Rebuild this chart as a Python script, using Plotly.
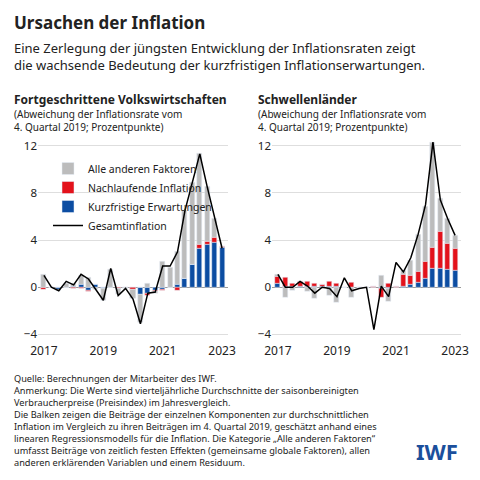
import plotly.graph_objects as go

quarters = [2017 + i / 4 for i in range(25)]

# Fortgeschrittene Volkswirtschaften
adv_blue = [0, 0, -0.2, 0, 0.1, 0.2, -0.3, 0.2, -0.1, 0, 0, 0, 0, -0.6, -0.5, -0.3, -0.2, 0, 0.2, 0.7, 1.9, 3.3, 3.6, 3.8, 3.4]
adv_red = [-0.2, 0, 0, 0, -0.1, -0.1, -0.1, 0, 0, -0.05, -0.1, 0, -0.2, 0, -0.2, -0.1, -0.1, 0, -0.3, 0, 0, 0.3, 0.3, 0.4, 0.05]
adv_gray = [1.1, 0, -0.1, 0.3, 0.2, 0.8, 0.8, -0.2, -1.0, 1.5, -0.5, -0.1, -0.8, -2.4, 0.3, -0.1, 2.2, 1.7, 2.8, 5.8, 7.0, 7.7, 4.6, 1.6, 0]
adv_total = [1.0, 0.0, -0.3, 0.5, 0.2, 1.1, 0.7, -0.2, -1.1, 1.6, -0.7, -0.1, -1.0, -3.1, -0.5, -0.4, 1.8, 1.8, 3.0, 6.5, 9.0, 11.3, 8.5, 5.8, 3.3]

# Schwellenländer
em_blue = [0.3, 0.1, 0.05, 0.05, 0.05, 0.05, 0.05, 0.05, 0.05, 0, 0, 0, 0, 0, -0.1, -0.1, 0, 0.1, 0.2, 0.4, 0.7, 1.6, 1.6, 1.5, 1.4]
em_red = [0.6, 0.7, 0.3, 0.4, 0.4, 0.3, 0.2, 0.4, 0.3, 0, 0.4, 0, 0, 0.1, -0.8, 0.3, 0.1, 1.0, 0.8, 0.9, 1.5, 1.8, 3.1, 2.2, 1.9]
em_gray = [0.2, -0.9, -0.3, 0, -0.4, -1.0, 0, -0.7, -1.3, 0, -0.9, 0, 0, 0, 1.0, -1.1, 0, 0.3, 1.3, 3.2, 4.6, 8.9, 2.8, 2.1, 1.1]
em_total = [1.1, 0.0, 0.0, 0.5, 0.1, -0.5, 0.0, -0.1, -0.8, 0.8, -0.3, -0.1, 0.0, -3.6, 0.1, -0.8, 2.1, 1.3, 2.5, 4.5, 7.0, 12.3, 7.4, 5.8, 4.4]

tick_vals = [2017, 2019, 2021, 2023]
BLUE, RED, GRAY = "#0c4da2", "#e3121b", "#bcbcbc"
FONT = "Noto Sans"

fig = go.Figure()
panels = [(adv_blue, adv_red, adv_gray, adv_total, "x", "y", True),
          (em_blue, em_red, em_gray, em_total, "x2", "y2", False)]
for blue, red, gray, total, xa, ya, show in panels:
    # blue first so it sits on the zero line, then red, then gray
    fig.add_bar(x=quarters, y=blue, marker_color=BLUE, name="Kurzfristige Erwartungen", legendrank=3,
                xaxis=xa, yaxis=ya, showlegend=show, width=0.17)
    fig.add_bar(x=quarters, y=red, marker_color=RED, name="Nachlaufende Inflation", legendrank=2,
                xaxis=xa, yaxis=ya, showlegend=show, width=0.17)
    fig.add_bar(x=quarters, y=gray, marker_color=GRAY, name="Alle anderen Faktoren", legendrank=1,
                xaxis=xa, yaxis=ya, showlegend=show, width=0.17)
    fig.add_scatter(x=quarters, y=total, mode="lines", line=dict(color="black", width=1.5),
                    name="Gesamtinflation", legendrank=4, xaxis=xa, yaxis=ya, showlegend=show)

xcommon = dict(range=[2016.8, 2023.2], tickvals=tick_vals, ticktext=[str(t) for t in tick_vals],
               showgrid=False, zeroline=False, showline=False, ticks="", automargin=False,
               ticklabelstandoff=5, tickfont=dict(size=12, color="#222"))
ycommon = dict(range=[-4.2, 12.6], tickvals=[-4, 0, 4, 8, 12], ticktext=["\u22124", "0", "4", "8", "12"],
               showgrid=True, gridcolor="#dedede", gridwidth=1, zeroline=True, zerolinecolor="#999",
               zerolinewidth=1, tickfont=dict(size=11.5, color="#222"), domain=[0.315, 0.728],
               automargin=False)

fig.update_layout(
    width=480, height=480, margin=dict(l=0, r=0, t=0, b=0),
    paper_bgcolor="white", plot_bgcolor="white", barmode="relative", bargap=0,
    font=dict(family=FONT, color="#222"),
    xaxis=dict(domain=[30 / 480, 220 / 480], anchor="y", **xcommon),
    yaxis=dict(anchor="x", **ycommon),
    xaxis2=dict(domain=[264 / 480, 453 / 480], anchor="y2", **xcommon),
    yaxis2=dict(anchor="x2", **ycommon),
    legend=dict(x=40 / 480, y=1 - 146 / 480, xanchor="left", yanchor="top",
                font=dict(size=10.5), bgcolor="rgba(0,0,0,0)", tracegroupgap=0,
                traceorder="normal", itemwidth=30),
)

def txt(x, y, s, size, bold=False, color="#222"):
    fig.add_annotation(x=x / 480, y=1 - y / 480, xref="paper", yref="paper", text=f"<b>{s}</b>" if bold else s,
                       showarrow=False, xanchor="left", yanchor="top", align="left",
                       font=dict(size=size, color=color, family=FONT))

txt(4, 1, "Ursachen der Inflation", 17, bold=True)
txt(4, 29, "Eine Zerlegung der jüngsten Entwicklung der Inflationsraten zeigt<br>die wachsende Bedeutung der kurzfristigen Inflationserwartungen.", 13)
txt(4, 81, "Fortgeschrittene Volkswirtschaften", 12, bold=True)
txt(4, 97, "(Abweichung der Inflationsrate vom<br>4. Quartal 2019; Prozentpunkte)", 10)
txt(248, 81, "Schwellenländer", 12, bold=True)
txt(248, 97, "(Abweichung der Inflationsrate vom<br>4. Quartal 2019; Prozentpunkte)", 10)
txt(4, 362, "Quelle: Berechnungen der Mitarbeiter des IWF.<br>"
    "Anmerkung: Die Werte sind vierteljährliche Durchschnitte der saisonbereinigten<br>"
    "Verbraucherpreise (Preisindex) im Jahresvergleich.<br>"
    "Die Balken zeigen die Beiträge der einzelnen Komponenten zur durchschnittlichen<br>"
    "Inflation im Vergleich zu ihren Beiträgen im 4. Quartal 2019, geschätzt anhand eines<br>"
    "linearen Regressionsmodells für die Inflation. Die Kategorie „Alle anderen Faktoren“<br>"
    "umfasst Beiträge von zeitlich festen Effekten (gemeinsame globale Faktoren), allen<br>"
    "anderen erklärenden Variablen und einem Residuum.", 9.2)
txt(406, 426, "IWF", 22, bold=True, color="#1b4f9c")

fig.write_html("out.html")
